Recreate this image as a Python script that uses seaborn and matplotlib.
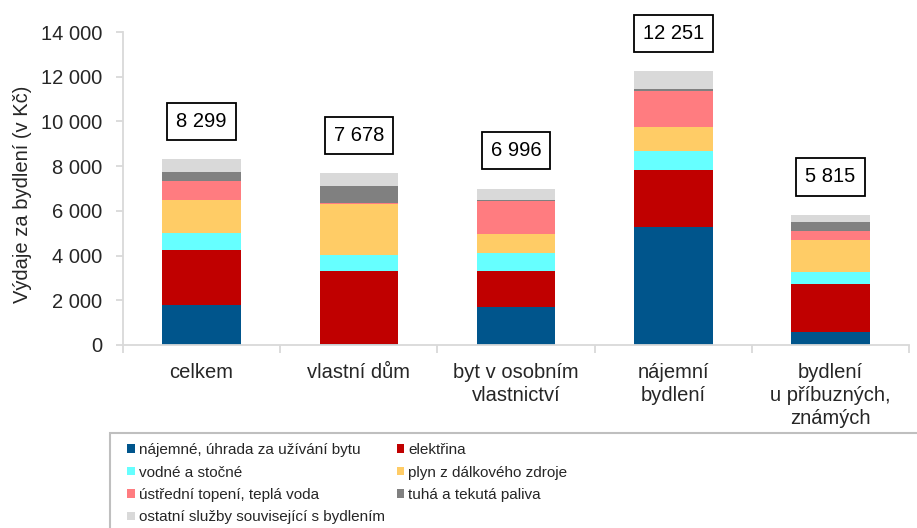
import numpy as np
import pandas as pd
import matplotlib
matplotlib.use("Agg")
import matplotlib.pyplot as plt
from matplotlib.patches import Patch, Rectangle
import seaborn as sns

# categories (household types) and expenditure components in CZK
categories = ["celkem", "vlastní dům", "byt v osobním\nvlastnictví",
              "nájemní\nbydlení", "bydlení\nu příbuzných,\nznámých"]
totals = [8299, 7678, 6996, 12251, 5815]

najemne = [1776, 60, 1686, 5291, 595]
elektrina = [2473, 3264, 1637, 2535, 2133]
vodne = [746, 700, 778, 836, 552]
plyn = [1475, 2281, 850, 1088, 1416]
topeni = [878, 30, 1503, 1610, 402]
paliva = [374, 790, 30, 89, 417]
ostatni = [577, 553, 512, 802, 300]

labels = ["nájemné, úhrada za užívání bytu", "elektřina", "vodné a stočné",
          "plyn z dálkového zdroje", "ústřední topení, teplá voda",
          "tuhá a tekutá paliva", "ostatní služby související s bydlením"]
colors = ["#00558C", "#C00000", "#66FFFF", "#FFCC66", "#FF7C80", "#808080", "#D9D9D9"]

sns.set_theme(style="white")
plt.rcParams["font.family"] = ["Liberation Sans", "DejaVu Sans"]

df = pd.DataFrame({
    "typ": categories,
    labels[0]: najemne, labels[1]: elektrina, labels[2]: vodne, labels[3]: plyn,
    labels[4]: topeni, labels[5]: paliva, labels[6]: ostatni,
})

fig = plt.figure(figsize=(9.17, 5.28), dpi=100)
ax = fig.add_axes([123 / 917, 1 - 345 / 528, 786 / 917, 313 / 528])

bottom = np.zeros(len(categories))
for lab, col in zip(labels, colors):
    sns.barplot(data=df, x="typ", y=lab, bottom=bottom, color=col, saturation=1,
                width=0.5, errorbar=None, linewidth=0, ax=ax)
    bottom = bottom + df[lab].values

# total boxes above bars
for i, t in enumerate(totals):
    ax.text(i, t + 1700, f"{t:,}".replace(",", " "), ha="center", va="center",
            fontsize=14.5, color="black",
            bbox=dict(boxstyle="square,pad=0.45", fc="white", ec="black", lw=1.3))

ax.set_xlim(-0.5, 4.5)
ax.set_ylim(0, 14000)
ax.set_yticks(np.arange(0, 14001, 2000))
ax.set_yticklabels([f"{v:,}".replace(",", " ") for v in range(0, 14001, 2000)])
ax.set_xticks(np.arange(-0.5, 5, 1), minor=True)
ax.set_xlabel("")
ax.set_ylabel("Výdaje za bydlení (v Kč)", fontsize=14.5)
ax.yaxis.set_label_coords(-0.116, 0.48)
for lbl in ax.get_xticklabels():
    lbl.set_linespacing(1.25)

for s in ["top", "right"]:
    ax.spines[s].set_visible(False)
for s in ["left", "bottom"]:
    ax.spines[s].set_color("#d9d9d9")
    ax.spines[s].set_linewidth(1.3)

ax.tick_params(axis="y", which="major", left=True, length=5, width=1.3,
               color="#d9d9d9", labelsize=14.5, pad=10)
ax.tick_params(axis="x", which="major", length=0, labelsize=14.5, pad=13)
ax.tick_params(axis="x", which="minor", bottom=True, length=6, width=1.3, color="#d9d9d9")

# legend, row-wise order in two columns
order = [0, 2, 4, 6, 1, 3, 5]
handles = [Patch(facecolor=colors[k], edgecolor="none") for k in order]
fig.legend(handles, [labels[k] for k in order], loc="upper left",
           bbox_to_anchor=(121 / 917, 1 - 437 / 528), ncol=2, frameon=False,
           fontsize=11, handlelength=0.5, handleheight=0.5, handletextpad=0.25,
           labelspacing=0.55, columnspacing=0.8, borderaxespad=0)
fig.patches.append(Rectangle((110 / 917, -0.1), 1, 1 - 433 / 528 + 0.1,
                             transform=fig.transFigure, fill=False,
                             edgecolor="#bfbfbf", lw=1.5))

plt.savefig("out.png", dpi=100)
plt.close()
